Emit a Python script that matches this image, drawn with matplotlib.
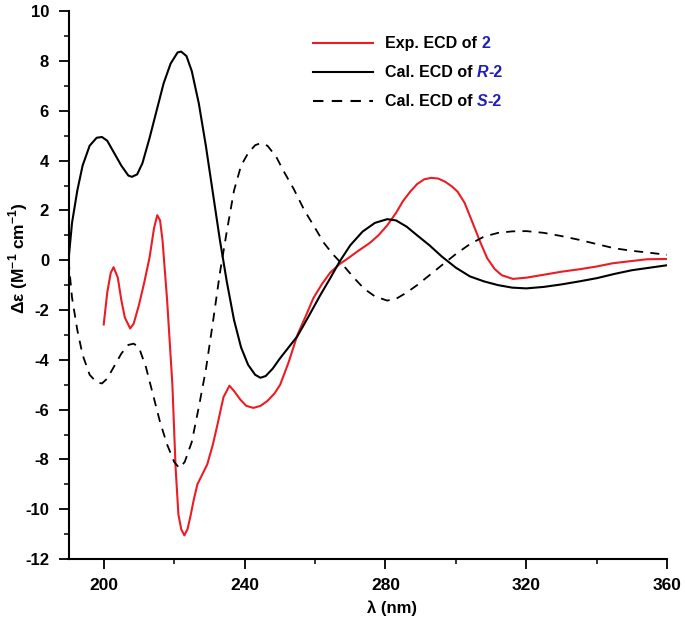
import matplotlib.pyplot as plt
from matplotlib.ticker import MultipleLocator

plt.rcParams['font.family'] = ['Liberation Sans', 'DejaVu Sans']
plt.rcParams['axes.unicode_minus'] = False
plt.rcParams['mathtext.fontset'] = 'custom'
plt.rcParams['mathtext.rm'] = 'Liberation Sans'
plt.rcParams['mathtext.bf'] = 'Liberation Sans:bold'

# Exp. ECD of 2
exp_x = [200, 201, 202, 202.8, 204, 205, 206, 207.5, 208.5, 210, 211.5, 213, 214.3, 215.2,
         216, 216.7, 218, 219.5, 220.4, 221.2, 222, 222.9, 223.8, 224.6, 225.6, 226.6, 228,
         229.4, 231, 232.3, 234, 235.7, 237, 238.8, 240.5, 242.5, 244.5, 246.5, 248.5, 250.1,
         252.5, 255, 257.5, 259.5, 262, 264.3, 267, 269.1, 272, 275.6, 278, 280.5, 283, 285,
         287, 289, 291, 293, 295, 297, 299, 300.5, 302.5, 304.9, 307, 308.9, 311, 313, 316.2,
         320, 325.9, 330, 335.2, 340, 344.6, 350, 354.3, 360]
exp_y = [-2.58, -1.3, -0.5, -0.28, -0.7, -1.6, -2.3, -2.74, -2.55, -1.8, -0.9, 0.1, 1.3, 1.81,
         1.6, 0.8, -1.6, -5.0, -8.3, -10.2, -10.8, -11.05, -10.8, -10.3, -9.6, -9.0, -8.6,
         -8.2, -7.4, -6.6, -5.5, -5.04, -5.25, -5.6, -5.85, -5.93, -5.85, -5.65, -5.35, -5.0,
         -4.1, -3.0, -2.2, -1.53, -0.95, -0.5, -0.15, 0.05, 0.35, 0.7, 1.0, 1.4, 1.9, 2.38,
         2.75, 3.06, 3.25, 3.31, 3.28, 3.15, 2.95, 2.75, 2.3, 1.45, 0.7, 0.08, -0.35, -0.6, -0.75,
         -0.7, -0.56, -0.46, -0.36, -0.25, -0.12, -0.03, 0.04, 0.05]

# Cal. ECD of R-2
r_x = [190, 191, 192.5, 194, 196, 198, 199.5, 201, 203, 205, 207, 208, 209.5, 211, 213, 215,
       217, 219, 221, 222, 223.5, 225, 227, 229, 231, 233, 235, 237, 239, 241, 243, 244.5,
       246, 248, 250, 252.5, 255, 258, 261.5, 264, 267, 270, 273.5, 277, 280.5, 283, 286,
       289, 292.5, 296, 300, 304, 308, 312, 316, 320, 325, 330, 335, 340, 345, 350, 355, 360]
r_y = [0.0, 1.5, 2.8, 3.8, 4.6, 4.92, 4.95, 4.8, 4.3, 3.8, 3.4, 3.35, 3.45, 3.9, 4.9, 6.0,
       7.1, 7.9, 8.35, 8.38, 8.2, 7.6, 6.3, 4.6, 2.7, 0.8, -0.9, -2.4, -3.5, -4.2, -4.6, -4.72,
       -4.65, -4.35, -3.95, -3.5, -3.05, -2.3, -1.4, -0.8, -0.05, 0.6, 1.15, 1.5, 1.65, 1.6, 1.35,
       1.0, 0.6, 0.15, -0.3, -0.65, -0.85, -1.0, -1.1, -1.13, -1.07, -0.97, -0.85, -0.72, -0.55,
       -0.4, -0.3, -0.2]

# Cal. ECD of S-2
s_x = [190, 191, 192.5, 194, 196, 198, 199.5, 201, 203, 205, 207, 208.5, 210, 212, 214, 216,
       218, 220, 221.5, 223, 225, 227, 229, 231, 233, 235, 237, 239, 241, 243, 244.5, 246.5,
       249, 251, 254, 257, 260, 262.5, 265, 268, 271, 274, 277, 280.5, 283, 286, 289, 292.5,
       296, 300, 304, 308, 312, 316, 320, 325, 330, 335, 340, 345, 350, 355, 360]
s_y = [0.0, -1.5, -2.8, -3.8, -4.6, -4.9, -4.95, -4.75, -4.25, -3.75, -3.4, -3.35, -3.5, -4.3,
       -5.4, -6.5, -7.4, -8.1, -8.35, -8.1, -7.3, -5.9, -4.4, -2.5, -0.5, 1.2, 2.8, 3.8, 4.3,
       4.62, 4.7, 4.6, 4.15, 3.6, 2.85, 2.0, 1.3, 0.7, 0.25, -0.2, -0.7, -1.15, -1.45, -1.62,
       -1.55, -1.3, -1.0, -0.6, -0.2, 0.25, 0.65, 0.95, 1.1, 1.16, 1.17, 1.1, 0.97, 0.82, 0.65,
       0.48, 0.38, 0.3, 0.22]

fig = plt.figure(figsize=(6.85, 6.26), dpi=100)
ax = fig.add_axes([0.100, 0.107, 0.874, 0.875])

ax.plot(exp_x, exp_y, color='#ec1c24', lw=1.5)
ax.plot(r_x, r_y, color='black', lw=1.5)
ax.plot(s_x, s_y, color='black', lw=1.3, ls=(0, (5, 4)))

ax.set_xlim(190, 360)
ax.set_ylim(-12, 10)
ax.xaxis.set_major_locator(MultipleLocator(40))
ax.xaxis.set_minor_locator(MultipleLocator(20))
ax.yaxis.set_major_locator(MultipleLocator(2))
ax.yaxis.set_minor_locator(MultipleLocator(1))
ax.set_xticks([200, 240, 280, 320, 360])
ax.spines['top'].set_visible(False)
ax.spines['right'].set_visible(False)
ax.spines['left'].set_linewidth(1.5)
ax.spines['bottom'].set_linewidth(1.5)
ax.tick_params(which='major', direction='out', length=7, width=1.3)
ax.tick_params(which='minor', direction='out', length=3.6, width=1.1)
ax.tick_params(axis='x', which='major', labelsize=12.5, pad=7)
ax.tick_params(axis='y', which='major', labelsize=12, pad=7)
for lab in ax.get_xticklabels() + ax.get_yticklabels():
    lab.set_fontweight('bold')

ax.set_xlabel('λ (nm)', fontsize=12, fontweight='bold')
ax.xaxis.set_label_coords(0.54, -0.075)
ax.set_ylabel('Δε (M$^{\\mathbf{-1}}$ cm$^{\\mathbf{-1}}$)', fontsize=12.5, fontweight='bold')
ax.yaxis.set_label_coords(-0.064, 0.55)

# legend drawn by hand for the mixed-colour labels
blue = '#1f1fb4'
rows = [(0.942, '#ec1c24', '-', 'Exp. ECD of ', [('2', 'normal')]),
        (0.889, 'black', '-', 'Cal. ECD of ', [('R', 'italic'), ('-2', 'normal')]),
        (0.836, 'black', (0, (5, 4)), 'Cal. ECD of ', [('S', 'italic'), ('-2', 'normal')])]
for ypos, col, ls, txt, parts in rows:
    ax.plot([0.409, 0.509], [ypos, ypos], color=col, ls=ls, lw=1.5, transform=ax.transAxes)
    prev = ax.text(0.529, ypos, txt, transform=ax.transAxes, fontsize=11.5,
                   fontweight='bold', va='center', ha='left')
    for p, style in parts:
        prev = ax.annotate(p, xy=(1, 0), xycoords=prev, va='bottom', ha='left',
                           fontsize=11.5, fontweight='bold', style=style, color=blue)

fig.savefig('out.png', dpi=100)
